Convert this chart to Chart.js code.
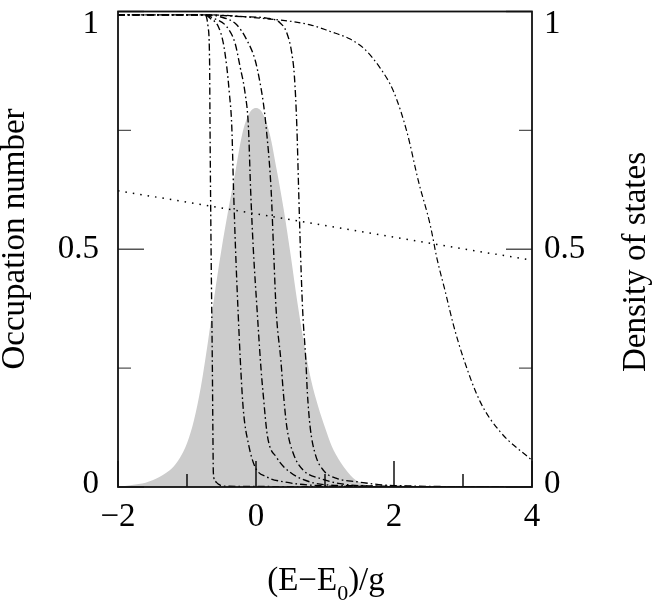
<!DOCTYPE html>
<html>
<head>
<meta charset="utf-8">
<script src="https://cdn.jsdelivr.net/npm/chart.js@4.4.1/dist/chart.umd.min.js"></script>
<style>
  body { margin: 0; background: #fff; }
  #wrap { width: 654px; height: 611px; }
</style>
</head>
<body>
<div id="wrap"><canvas id="occChart" width="654" height="611"></canvas></div>
<script>
// occupation number curves (x = (E-E0)/g)
const curve1X = [-2, -0.738, -0.695, -0.673, -0.666, -0.651, -0.632, -0.625, -0.618, -0.59, -0.545, -0.477, 0, 4];
const curve1Y = [0.993, 0.993, 0.968, 0.898, 0.751, 0.498, 0.246, 0.12, 0.03, 0.012, 0.006, 0.002, 0.001, 0];

const curve2X = [-2, -0.738, -0.666, -0.545, -0.473, -0.424, -0.386, -0.351, -0.325, -0.296, -0.26, -0.22, -0.183, -0.11, -0.013, 0.157, 0.397, 0.785, 1.5, 4];
const curve2Y = [0.993, 0.993, 0.986, 0.968, 0.933, 0.884, 0.828, 0.758, 0.624, 0.498, 0.37, 0.246, 0.161, 0.091, 0.042, 0.021, 0.011, 0.004, 0.001, 0];

const curve3X = [-2, -0.738, -0.618, -0.424, -0.303, -0.231, -0.158, -0.110, -0.078, -0.038, 0.016, 0.074, 0.103, 0.165, 0.30, 0.494, 0.80, 1.3, 4];
const curve3Y = [0.993, 0.993, 0.986, 0.968, 0.933, 0.884, 0.828, 0.758, 0.625, 0.498, 0.372, 0.246, 0.197, 0.108, 0.062, 0.031, 0.01, 0.003, 0];

const curve4X = [-2, -0.738, -0.521, -0.279, -0.133, -0.013, 0.06, 0.107, 0.146, 0.219, 0.255, 0.292, 0.36, 0.397, 0.447, 0.542, 0.687, 0.93, 1.22, 1.7, 4];
const curve4Y = [0.993, 0.993, 0.989, 0.972, 0.940, 0.898, 0.849, 0.807, 0.758, 0.625, 0.498, 0.372, 0.267, 0.197, 0.126, 0.070, 0.035, 0.018, 0.007, 0.002, 0];

const curve5X = [-2, -0.738, -0.183, 0.157, 0.35, 0.447, 0.519, 0.557, 0.592, 0.618, 0.644, 0.676, 0.722, 0.745, 0.785, 0.857, 0.978, 1.17, 1.46, 2.0, 4];
const curve5Y = [0.993, 0.993, 0.989, 0.986, 0.976, 0.955, 0.912, 0.863, 0.758, 0.625, 0.498, 0.372, 0.267, 0.197, 0.126, 0.070, 0.035, 0.018, 0.011, 0.003, 0];

const curve6X = [-2, -0.738, 0.06, 0.785, 1.075, 1.365, 1.558, 1.80, 1.993, 2.187, 2.356, 2.525, 2.622, 2.743, 2.863, 3.008, 3.25, 3.54, 4.0];
const curve6Y = [0.993, 0.993, 0.986, 0.972, 0.958, 0.942, 0.923, 0.881, 0.832, 0.747, 0.642, 0.551, 0.481, 0.411, 0.340, 0.270, 0.179, 0.116, 0.056];

// straight dotted line
const lineX = [-2, -0.666, 2.622, 4];
const lineY = [0.623, 0.591, 0.510, 0.477];

// density of states (grey area)
const dosX = [-2, -1.8, -1.6, -1.5, -1.4, -1.3, -1.2, -1.1, -1.0, -0.9, -0.8, -0.7, -0.6, -0.5, -0.4, -0.3, -0.2, -0.1, 0,
              0.1, 0.2, 0.3, 0.4, 0.5, 0.6, 0.7, 0.8, 0.9, 1.0, 1.1, 1.2, 1.3, 1.4, 1.5, 1.6, 1.8, 2.0, 4];
const dosY = [0, 0.004, 0.009, 0.014, 0.021, 0.030, 0.042, 0.062, 0.092, 0.140, 0.210, 0.302, 0.405, 0.500, 0.584, 0.662, 0.742, 0.785, 0.797,
              0.785, 0.742, 0.667, 0.585, 0.490, 0.388, 0.298, 0.224, 0.170, 0.125, 0.085, 0.058, 0.037, 0.020, 0.010, 0.004, 0.001, 0, 0];

// axis ticks
const xLabelTicks = [-2, 0, 2, 4];
const xMinorTicks = [-1, 1, 3];
const yLabelTicks = [0, 0.5, 1];
const yMinorTicks = [0.25, 0.75];

const FONT = '"Liberation Serif", "Times New Roman", serif';
const FSIZE = 33;

function pts(xs, ys) {
    return xs.map((x, i) => ({ x: x, y: ys[i] }));
}

function occLine(xs, ys, dash, width) {
    return {
        data: pts(xs, ys),
        borderColor: '#000',
        borderWidth: width,
        borderDash: dash,
        pointRadius: 0,
        fill: false,
        cubicInterpolationMode: 'monotone'
    };
}

const dashDot = [7, 3, 1.6, 3];

// frame, inward ticks, y labels and titles
const decorations = {
    id: 'decorations',
    afterDatasetsDraw(chart) {
        const { ctx, chartArea: a, scales: { x, y } } = chart;
        ctx.save();

        ctx.lineWidth = 1.4;
        ctx.strokeStyle = '#000';
        ctx.beginPath();
        xLabelTicks.concat(xMinorTicks).forEach(v => {
            const px = x.getPixelForValue(v);
            const len = xLabelTicks.includes(v) ? 26 : 13;
            ctx.moveTo(px, a.bottom);
            ctx.lineTo(px, a.bottom - len);
        });
        ctx.stroke();

        ctx.strokeStyle = '#555';
        ctx.beginPath();
        yLabelTicks.concat(yMinorTicks).forEach(v => {
            const py = y.getPixelForValue(v);
            const len = yLabelTicks.includes(v) ? 26 : 13;
            ctx.moveTo(a.left, py);
            ctx.lineTo(a.left + len, py);
            ctx.moveTo(a.right, py);
            ctx.lineTo(a.right - len, py);
        });
        ctx.stroke();

        ctx.strokeStyle = '#111';
        ctx.lineWidth = 1.8;
        ctx.strokeRect(a.left, a.top, a.right - a.left, a.bottom - a.top);
        ctx.restore();
    },
    afterDraw(chart) {
        const { ctx, chartArea: a, scales: { y } } = chart;
        ctx.save();
        ctx.fillStyle = '#000';
        ctx.font = FSIZE + 'px ' + FONT;
        ctx.textBaseline = 'middle';

        // y tick labels on both sides
        yLabelTicks.forEach(v => {
            let py = y.getPixelForValue(v);
            py = Math.min(Math.max(py, a.top + 13), a.bottom - 3);
            ctx.textAlign = 'right';
            ctx.fillText(String(v), a.left - 19, py);
            ctx.textAlign = 'left';
            ctx.fillText(String(v), a.right + 12, py);
        });

        // axis titles
        ctx.textBaseline = 'alphabetic';
        ctx.textAlign = 'center';
        ctx.save();
        ctx.translate(24, 239);
        ctx.rotate(-Math.PI / 2);
        ctx.fillText('Occupation number', 0, 0);
        ctx.restore();

        ctx.save();
        ctx.translate(645, 262);
        ctx.rotate(-Math.PI / 2);
        ctx.fillText('Density of states', 0, 0);
        ctx.restore();

        // (E-E0)/g with subscript
        const p1 = '(E\u2212E', sub = '0', p2 = ')/g';
        ctx.textAlign = 'left';
        ctx.font = FSIZE + 'px ' + FONT;
        const w1 = ctx.measureText(p1).width;
        const w3 = ctx.measureText(p2).width;
        ctx.font = '22px ' + FONT;
        const w2 = ctx.measureText(sub).width;
        let sx = 326 - (w1 + w2 + w3) / 2;
        ctx.font = FSIZE + 'px ' + FONT;
        ctx.fillText(p1, sx, 590);
        sx += w1;
        ctx.font = '22px ' + FONT;
        ctx.fillText(sub, sx, 600);
        sx += w2;
        ctx.font = FSIZE + 'px ' + FONT;
        ctx.fillText(p2, sx, 590);
        ctx.restore();
    }
};

const ctx = document.getElementById('occChart').getContext('2d');

new Chart(ctx, {
    type: 'line',
    data: {
        datasets: [
            occLine(curve1X, curve1Y, dashDot, 1.35),
            occLine(curve2X, curve2Y, dashDot, 1.35),
            occLine(curve3X, curve3Y, dashDot, 1.35),
            occLine(curve4X, curve4Y, dashDot, 1.35),
            occLine(curve5X, curve5Y, dashDot, 1.35),
            occLine(curve6X, curve6Y, [6, 3, 1.6, 3], 1.2),
            {
                data: pts(lineX, lineY),
                borderColor: '#000',
                borderWidth: 1.5,
                borderDash: [1.5, 6],
                pointRadius: 0,
                fill: false,
                tension: 0
            },
            {
                data: pts(dosX, dosY),
                yAxisID: 'y2',
                borderWidth: 0,
                borderColor: 'rgba(0,0,0,0)',
                backgroundColor: '#cccccc',
                pointRadius: 0,
                fill: 'origin',
                cubicInterpolationMode: 'monotone'
            }
        ]
    },
    options: {
        responsive: false,
        animation: false,
        events: [],
        layout: { padding: { top: 11.5, left: 0, right: 0, bottom: 0 } },
        plugins: {
            legend: { display: false },
            tooltip: { enabled: false }
        },
        scales: {
            x: {
                type: 'linear',
                min: -2,
                max: 4,
                grid: { display: false, drawTicks: false },
                border: { display: false },
                ticks: {
                    stepSize: 2,
                    padding: 11,
                    color: '#000',
                    font: { family: FONT, size: FSIZE },
                    maxRotation: 0,
                    callback: v => (v < 0 ? '\u2212' + Math.abs(v) : String(v))
                },
                afterFit: s => { s.height = 124; s.paddingLeft = 0; s.paddingRight = 0; }
            },
            y: {
                position: 'left',
                min: 0,
                max: 1,
                grid: { display: false, drawTicks: false },
                border: { display: false },
                ticks: { display: false, stepSize: 0.5 },
                afterFit: s => { s.width = 118; s.paddingTop = 0; s.paddingBottom = 0; }
            },
            y2: {
                position: 'right',
                min: 0,
                max: 1,
                grid: { display: false, drawTicks: false },
                border: { display: false },
                ticks: { display: false, stepSize: 0.5 },
                afterFit: s => { s.width = 122; s.paddingTop = 0; s.paddingBottom = 0; }
            }
        }
    },
    plugins: [decorations]
});
</script>
</body>
</html>
